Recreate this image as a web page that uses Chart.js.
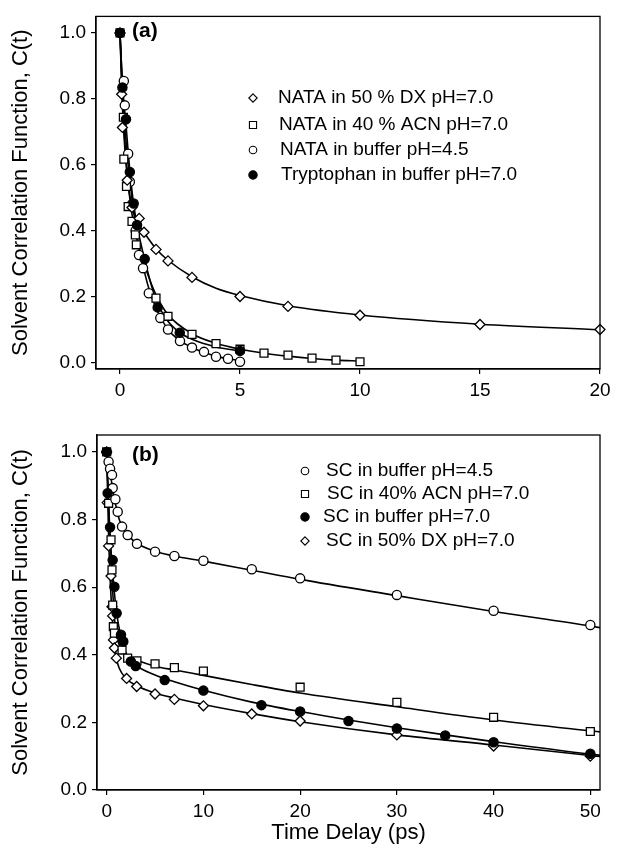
<!DOCTYPE html>
<html><head><meta charset="utf-8">
<script src="https://cdn.jsdelivr.net/npm/chart.js@4.4.0/dist/chart.umd.min.js"></script>
<style>
html,body{margin:0;padding:0;background:#fff;}
#wrap{position:relative;width:618px;height:853px;overflow:hidden;}
.box{position:absolute;left:0;width:618px;}
</style></head><body>
<div id="wrap">
<div class="box" style="top:0;height:400px"><canvas id="c1" width="618" height="400"></canvas></div>
<div class="box" style="top:400px;height:453px"><canvas id="c2" width="618" height="453"></canvas></div>
</div>
<script>
const FONT = "'Liberation Sans', Arial, Helvetica, sans-serif";

// ---------- Panel (a) ----------
const aTimeTicks = [0, 5, 10, 15, 20];
const aValueTicks = [0.0, 0.2, 0.4, 0.6, 0.8, 1.0];

const aDxT = [0, 0.07, 0.1, 0.3, 0.5, 0.8, 1.0, 1.5, 2, 3, 5, 7, 10, 15, 20];
const aDxC = [1.0, 0.814, 0.713, 0.553, 0.47, 0.437, 0.395, 0.343, 0.308, 0.258, 0.20, 0.17, 0.143, 0.115, 0.10];
const aDxFitT = [0, 0.05, 0.1, 0.2, 0.3, 0.4, 0.5, 0.7, 1, 1.5, 2, 3, 4, 5, 7, 10, 15, 20];
const aDxFitC = [1.0, 0.88, 0.78, 0.65, 0.57, 0.51, 0.475, 0.43, 0.395, 0.345, 0.31, 0.26, 0.225, 0.203, 0.172, 0.144, 0.116, 0.099];

const aAcnT = [0, 0.14, 0.16, 0.27, 0.34, 0.5, 0.64, 0.68, 1.5, 2, 3, 4, 5, 6, 7, 8, 9, 10];
const aAcnC = [1.0, 0.744, 0.617, 0.534, 0.473, 0.428, 0.387, 0.357, 0.195, 0.14, 0.085, 0.057, 0.04, 0.028, 0.022, 0.013, 0.007, 0.002];
const aAcnFitT = [0, 0.1, 0.2, 0.3, 0.5, 0.7, 1, 1.5, 2, 3, 4, 5, 6, 7, 8, 9, 10];
const aAcnFitC = [1.0, 0.8, 0.67, 0.57, 0.45, 0.375, 0.3, 0.205, 0.145, 0.087, 0.058, 0.04, 0.028, 0.019, 0.012, 0.007, 0.004];

const aBufT = [0, 0.16, 0.2, 0.34, 0.41, 0.5, 0.65, 0.79, 0.96, 1.2, 1.68, 2, 2.5, 3, 3.5, 4, 4.5, 5];
const aBufC = [1.0, 0.854, 0.78, 0.633, 0.548, 0.48, 0.40, 0.326, 0.286, 0.21, 0.135, 0.10, 0.065, 0.045, 0.032, 0.017, 0.011, 0.002];
const aBufFitT = [0, 0.1, 0.2, 0.3, 0.4, 0.6, 0.8, 1, 1.2, 1.5, 2, 2.5, 3, 3.5, 4, 4.5, 5];
const aBufFitC = [1.0, 0.84, 0.72, 0.63, 0.56, 0.44, 0.345, 0.28, 0.225, 0.165, 0.10, 0.066, 0.045, 0.03, 0.019, 0.011, 0.006];

const aTrpT = [0, 0.1, 0.25, 0.41, 0.57, 0.71, 1.03, 1.57, 2.49, 5];
const aTrpC = [1.0, 0.834, 0.738, 0.578, 0.482, 0.417, 0.314, 0.167, 0.09, 0.035];
const aTrpFitT = [0, 0.1, 0.25, 0.4, 0.55, 0.7, 1, 1.5, 2, 2.5, 3, 4, 5];
const aTrpFitC = [1.0, 0.85, 0.72, 0.59, 0.49, 0.42, 0.32, 0.19, 0.125, 0.09, 0.07, 0.047, 0.035];

const aLegend = ['NATA in 50 % DX pH=7.0', 'NATA in 40 % ACN pH=7.0', 'NATA in buffer pH=4.5', 'Tryptophan in buffer pH=7.0'];

// ---------- Panel (b) ----------
const bTimeTicks = [0, 10, 20, 30, 40, 50];
const bValueTicks = [0.0, 0.2, 0.4, 0.6, 0.8, 1.0];

const bBuf45T = [0, 0.2, 0.35, 0.55, 0.62, 0.9, 1.14, 1.59, 2.17, 3.13, 5, 7, 10, 15, 20, 30, 40, 50];
const bBuf45C = [1.0, 0.971, 0.95, 0.932, 0.893, 0.86, 0.823, 0.779, 0.754, 0.728, 0.705, 0.692, 0.678, 0.653, 0.626, 0.577, 0.53, 0.488];
const bBuf45FitT = [0, 0.2, 0.4, 0.6, 0.8, 1, 1.3, 1.6, 2, 3, 5, 7, 10, 15, 20, 30, 40, 50, 51];
const bBuf45FitC = [1.0, 0.965, 0.93, 0.895, 0.86, 0.835, 0.8, 0.78, 0.76, 0.732, 0.706, 0.692, 0.677, 0.65, 0.623, 0.575, 0.528, 0.485, 0.48];

const bAcnT = [0, 0.2, 0.45, 0.55, 0.62, 0.69, 0.8, 1.59, 2.17, 3.13, 5, 7, 10, 20, 30, 40, 50];
const bAcnC = [1.0, 0.848, 0.74, 0.651, 0.547, 0.483, 0.464, 0.414, 0.39, 0.382, 0.373, 0.362, 0.352, 0.304, 0.259, 0.215, 0.173];
const bAcnFitT = [0, 0.2, 0.4, 0.6, 0.8, 1, 1.5, 2, 3, 5, 7, 10, 15, 20, 30, 40, 50, 51];
const bAcnFitC = [1.0, 0.84, 0.72, 0.6, 0.51, 0.46, 0.415, 0.398, 0.385, 0.366, 0.355, 0.339, 0.312, 0.287, 0.246, 0.207, 0.175, 0.172];

const bBuf7T = [0, 0.1, 0.35, 0.62, 0.8, 1.03, 1.48, 1.72, 2.5, 3, 6, 10, 16, 20, 25, 30, 35, 40, 50];
const bBuf7C = [1.0, 0.878, 0.777, 0.68, 0.601, 0.523, 0.459, 0.439, 0.38, 0.367, 0.325, 0.294, 0.251, 0.232, 0.204, 0.182, 0.161, 0.141, 0.107];
const bBuf7FitT = [0, 0.3, 0.6, 1, 1.5, 2, 3, 5, 7, 10, 15, 20, 25, 30, 35, 40, 50, 51];
const bBuf7FitC = [1.0, 0.78, 0.65, 0.53, 0.45, 0.405, 0.37, 0.34, 0.32, 0.295, 0.26, 0.232, 0.207, 0.184, 0.163, 0.143, 0.106, 0.103];

const bDxT = [0, 0.05, 0.2, 0.45, 0.55, 0.62, 0.7, 0.8, 1.0, 2.06, 3.1, 5, 7, 10, 15, 20, 30, 40, 50];
const bDxC = [1.0, 0.85, 0.722, 0.633, 0.542, 0.515, 0.444, 0.42, 0.39, 0.33, 0.306, 0.284, 0.268, 0.249, 0.225, 0.204, 0.163, 0.13, 0.10];
const bDxFitT = [0, 0.2, 0.4, 0.6, 0.8, 1, 1.3, 2, 3, 5, 7, 10, 15, 20, 30, 40, 50, 51];
const bDxFitC = [1.0, 0.75, 0.6, 0.5, 0.43, 0.39, 0.36, 0.33, 0.31, 0.287, 0.272, 0.253, 0.226, 0.202, 0.163, 0.133, 0.102, 0.099];

const bLegend = ['SC in buffer pH=4.5', 'SC in 40% ACN pH=7.0', 'SC in buffer pH=7.0', 'SC in 50% DX pH=7.0'];

// ---------- helpers ----------
const zip = (t, c) => t.map((v, i) => ({x: v, y: c[i]}));
const STYLE = {
  diamond: {pointStyle: 'rectRot', pointRadius: 5, fill: '#fff', order: 0},
  square:  {pointStyle: 'rect', pointRadius: 5.6, fill: '#fff', order: 0},
  circle:  {pointStyle: 'circle', pointRadius: 4.6, fill: '#fff', order: 0},
  filled:  {pointStyle: 'circle', pointRadius: 4.6, fill: '#000', order: -1}
};
function markers(t, c, kind) {
  const s = STYLE[kind];
  return {type: 'scatter', data: zip(t, c), showLine: false, pointStyle: s.pointStyle,
    pointRadius: s.pointRadius, pointBackgroundColor: s.fill, pointBorderColor: '#000',
    pointBorderWidth: 1.3, order: s.order, clip: false};
}
function fit(t, c) {
  return {type: 'line', data: zip(t, c), showLine: true, pointRadius: 0, borderColor: '#000',
    borderWidth: 1.6, fill: false, cubicInterpolationMode: 'monotone', order: 1};
}

function drawSymbol(ctx, kind, x, y, r) {
  ctx.save();
  ctx.lineWidth = 1.1;
  ctx.strokeStyle = '#000';
  ctx.fillStyle = kind === 'filled' ? '#000' : '#fff';
  ctx.beginPath();
  if (kind === 'diamond') {
    ctx.moveTo(x, y - r); ctx.lineTo(x + r, y); ctx.lineTo(x, y + r); ctx.lineTo(x - r, y); ctx.closePath();
  } else if (kind === 'square') {
    const s = r * 0.85; ctx.rect(x - s, y - s, 2 * s, 2 * s);
  } else {
    ctx.arc(x, y, kind === 'filled' ? r : r * 0.9, 0, Math.PI * 2);
  }
  ctx.fill(); ctx.stroke();
  ctx.restore();
}

const framePlugin = {
  id: 'frame',
  afterDraw(chart) {
    const {ctx, chartArea: a} = chart;
    ctx.save();
    ctx.strokeStyle = '#000'; ctx.lineWidth = 1.3;
    ctx.strokeRect(a.left, a.top, a.right - a.left, a.bottom - a.top);
    ctx.restore();
  }
};
const notePlugin = {
  id: 'notes',
  afterDraw(chart, args, opts) {
    const ctx = chart.ctx;
    ctx.save();
    ctx.fillStyle = '#000';
    ctx.textBaseline = 'middle';
    ctx.textAlign = 'left';
    ctx.font = 'bold 21px ' + FONT;
    ctx.fillText(opts.tag, opts.tagX, opts.tagY);
    ctx.font = '19px ' + FONT;
    opts.items.forEach((it, i) => {
      drawSymbol(ctx, it.kind, opts.symX, it.y, 4.2);
      ctx.fillText(it.text, it.x, it.y);
    });
    ctx.restore();
  }
};

function axisCommon(ticksArr, fmt) {
  return {
    type: 'linear',
    afterBuildTicks: s => { s.ticks = ticksArr.map(v => ({value: v})); },
    ticks: {font: {family: FONT, size: 19}, color: '#000', padding: 5, maxRotation: 0, autoSkip: false,
      callback: fmt},
    grid: {drawOnChartArea: false, drawTicks: true, tickLength: 5, color: '#000', lineWidth: 1.2},
    border: {color: '#000', width: 1.3}
  };
}
const yTitle = {display: true, text: 'Solvent Correlation Function, C(t)', color: '#000',
  font: {family: FONT, size: 22}, padding: {top: 8, bottom: 0}};

// ---------- Chart (a) ----------
new Chart(document.getElementById('c1'), {
  type: 'scatter',
  data: {datasets: [
    markers(aDxT, aDxC, 'diamond'),
    markers(aAcnT, aAcnC, 'square'),
    markers(aBufT, aBufC, 'circle'),
    markers(aTrpT, aTrpC, 'filled'),
    fit(aDxFitT, aDxFitC), fit(aAcnFitT, aAcnFitC), fit(aBufFitT, aBufFitC), fit(aTrpFitT, aTrpFitC)
  ]},
  options: {
    responsive: false, animation: false, devicePixelRatio: 1,
    layout: {padding: {left: 0, right: 18, top: 13, bottom: 0}},
    plugins: {legend: {display: false}, tooltip: {enabled: false},
      notes: {tag: '(a)', tagX: 132, tagY: 31, symX: 253,
        items: [
          {kind: 'diamond', text: aLegend[0], x: 278, y: 98},
          {kind: 'square', text: aLegend[1], x: 279, y: 125},
          {kind: 'circle', text: aLegend[2], x: 280, y: 150},
          {kind: 'filled', text: aLegend[3], x: 281, y: 175}
        ]}},
    scales: {
      x: Object.assign(axisCommon(aTimeTicks, v => String(v)), {min: -1, max: 20,
        afterFit: s => { s.height = 31; }}),
      y: Object.assign(axisCommon(aValueTicks, v => v.toFixed(1)), {min: -0.02, max: 1.05,
        title: yTitle, afterFit: s => { s.width = 96; }})
    }
  },
  plugins: [framePlugin, notePlugin]
});

// ---------- Chart (b) ----------
new Chart(document.getElementById('c2'), {
  type: 'scatter',
  data: {datasets: [
    markers(bBuf45T, bBuf45C, 'circle'),
    markers(bAcnT, bAcnC, 'square'),
    markers(bBuf7T, bBuf7C, 'filled'),
    markers(bDxT, bDxC, 'diamond'),
    fit(bBuf45FitT, bBuf45FitC), fit(bAcnFitT, bAcnFitC), fit(bBuf7FitT, bBuf7FitC), fit(bDxFitT, bDxFitC)
  ]},
  options: {
    responsive: false, animation: false, devicePixelRatio: 1,
    layout: {padding: {left: 0, right: 18, top: 35, bottom: 0}},
    plugins: {legend: {display: false}, tooltip: {enabled: false},
      notes: {tag: '(b)', tagX: 132, tagY: 55, symX: 305,
        items: [
          {kind: 'circle', text: bLegend[0], x: 326, y: 71},
          {kind: 'square', text: bLegend[1], x: 327, y: 94},
          {kind: 'filled', text: bLegend[2], x: 323, y: 117},
          {kind: 'diamond', text: bLegend[3], x: 326, y: 141}
        ]}},
    scales: {
      x: Object.assign(axisCommon(bTimeTicks, v => String(v)), {min: -1, max: 51,
        title: {display: true, text: 'Time Delay (ps)', color: '#000', font: {family: FONT, size: 22},
          padding: {top: 2, bottom: 7}},
        afterFit: s => { s.height = 63; }}),
      y: Object.assign(axisCommon(bValueTicks, v => v.toFixed(1)), {min: 0, max: 1.05,
        title: yTitle, afterFit: s => { s.width = 97; }})
    }
  },
  plugins: [framePlugin, notePlugin]
});
</script>
</body></html>
